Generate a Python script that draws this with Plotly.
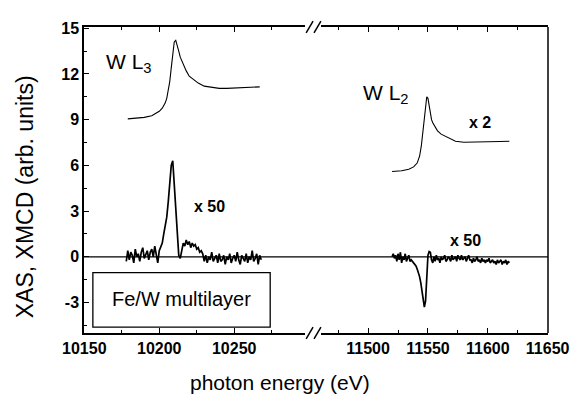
import plotly.graph_objects as go

# ---------------- data ----------------
# W L3 edge XAS (left segment)
xas_l3_x = [10179, 10185, 10190, 10195, 10198, 10200, 10202, 10204, 10205, 10206, 10207,
            10208, 10209, 10210, 10211, 10212, 10213, 10214, 10216, 10218, 10220, 10223,
            10226, 10230, 10235, 10240, 10245, 10250, 10255, 10260, 10267]
xas_l3_y = [9.05, 9.1, 9.15, 9.25, 9.4, 9.55, 9.75, 10.1, 10.4, 10.9, 11.5,
            12.4, 13.4, 14.1, 14.2, 13.9, 13.5, 13.1, 12.6, 12.2, 11.85, 11.6,
            11.4, 11.2, 11.1, 11.05, 11.05, 11.07, 11.1, 11.12, 11.15]

# W L3 edge XMCD x50 (left segment), 1 eV steps from 10178
xmcd_l3_start = 10178
xmcd_l3_y = [-0.3, 0.4, -0.2, 0.3, 0.1, -0.4, 0.5, 0.0, 0.2, -0.3, 0.3, 0.6, -0.1, 0.2, 0.4,
             -0.2, 0.3, 0.5, 0.0, 0.7, 0.2, -0.4, 0.4,
             0.6, 0.9, 1.5, 2.1, 2.6, 3.6, 4.7, 6.0, 6.3, 4.8, 3.6, 1.6, 0.1, -0.1,
             0.4, 0.9, 0.7, 1.1, 0.8, 1.0, 0.6, 0.9, 0.7, 0.8, 0.5, 0.6, 0.3, 0.4,
             0.2, -0.3, 0.1, -0.4, 0.0, -0.2, 0.3, -0.3, -0.1, 0.1, -0.4, 0.2, -0.3, -0.2,
             0.1, -0.5, 0.0, -0.2, 0.2, -0.4, -0.1, 0.1, -0.3, 0.3, -0.2, -0.5, 0.1, -0.1,
             -0.3, 0.2, -0.4, 0.0, -0.2, 0.4, -0.3, -0.1, 0.2, -0.5, 0.1, -0.2]

# W L2 edge XAS x2 (right segment)
xas_l2_x = [11520, 11528, 11534, 11538, 11541, 11543, 11544.5, 11546, 11547, 11548, 11549,
            11550, 11551, 11552, 11553, 11554, 11556, 11558, 11561, 11565, 11569, 11573,
            11580, 11590, 11600, 11610, 11618]
xas_l2_y = [5.6, 5.65, 5.75, 5.9, 6.15, 6.6, 7.3, 8.5, 9.4, 10.1, 10.5,
            10.4, 9.9, 9.4, 9.0, 8.8, 8.5, 8.27, 8.05, 7.88, 7.7, 7.58,
            7.52, 7.52, 7.55, 7.57, 7.58]

# W L2 edge XMCD x50 (right segment), 1 eV steps from 11520
xmcd_l2_start = 11520
xmcd_l2_y = [0.0, 0.2, -0.1, 0.1, -0.3, 0.2, -0.2, 0.3, -0.4, 0.0, -0.2, 0.2, -0.3, -0.1,
             0.1, -0.3, -0.2, -0.3,
             -0.4, -0.5, -0.6, -0.8, -1.0, -1.3, -1.7, -2.3, -3.0, -3.3, -2.9, -1.6, 0.1,
             0.35, 0.3, -0.2, -0.4, 0.0,
             -0.3, 0.1, -0.2, -0.1, -0.4, 0.0, -0.2, -0.1, 0.1, -0.3, -0.2, 0.0, -0.1, -0.3,
             0.1, -0.2, -0.1, 0.0, -0.3, 0.1, -0.1, -0.2, 0.1, -0.2, -0.1, 0.0, -0.3, -0.1,
             0.1, -0.2, -0.2, -0.4, -0.1, -0.3, -0.2, 0.0, -0.3, -0.2, -0.4, -0.1, -0.3,
             -0.2, -0.4, -0.2, -0.3, -0.1, -0.4, -0.3, -0.2, -0.4, -0.3, -0.5, -0.2, -0.4,
             -0.3, -0.2, -0.5, -0.3, -0.4, -0.2, -0.5, -0.3, -0.4]

xmcd_l3_x = [xmcd_l3_start + i for i in range(len(xmcd_l3_y))]
xmcd_l2_x = [xmcd_l2_start + i for i in range(len(xmcd_l2_y))]

left_ticks = [10150, 10200, 10250]
right_ticks = [11500, 11550, 11600, 11650]
y_ticks = [-3, 0, 3, 6, 9, 12, 15]

# ---------------- figure ----------------
FONT = "Arial, Liberation Sans, sans-serif"
OFF = 8  # page body margin offset
fig = go.Figure()

thin = dict(color="black", width=1.1)
thick = dict(color="black", width=1.7)

fig.add_trace(go.Scatter(x=xas_l3_x, y=xas_l3_y, mode="lines", line=thin, xaxis="x", yaxis="y"))
fig.add_trace(go.Scatter(x=xmcd_l3_x, y=xmcd_l3_y, mode="lines", line=thick, xaxis="x", yaxis="y"))
fig.add_trace(go.Scatter(x=xas_l2_x, y=xas_l2_y, mode="lines", line=thin, xaxis="x2", yaxis="y"))
fig.add_trace(go.Scatter(x=xmcd_l2_x, y=xmcd_l2_y, mode="lines", line=thick, xaxis="x2", yaxis="y"))

tickfont = dict(family=FONT, size=16, color="black")

def bold(vals):
    return ["<b>%d</b>" % v for v in vals]

common_x = dict(ticks="inside", ticklen=5, tickwidth=1.2, tickcolor="black",
                showline=True, linecolor="black", linewidth=1.5, mirror="ticks",
                showgrid=False, zeroline=False, tickfont=tickfont, anchor="y",
                tickmode="array")

minor_x = dict(tickmode="linear", dtick=25, ticks="inside", ticklen=3, tickcolor="black",
               showgrid=False)

fig.update_layout(
    width=582 - OFF, height=397 - OFF,
    margin=dict(l=84 - OFF, r=27, t=24 - OFF, b=64),
    paper_bgcolor="white", plot_bgcolor="white",
    showlegend=False,
    xaxis=dict(domain=[0, 0.4756], range=[10149.8, 10297],
               tickvals=left_ticks, ticktext=bold(left_ticks),
               minor=dict(tick0=left_ticks[0], **minor_x), **common_x),
    xaxis2=dict(domain=[0.5117, 1], range=[11461, 11650.3],
                tickvals=right_ticks, ticktext=bold(right_ticks),
                minor=dict(tick0=right_ticks[0], **minor_x), **common_x),
    yaxis=dict(range=[-5, 15.08], tickmode="array", tickvals=y_ticks, ticktext=bold(y_ticks),
               ticks="inside", ticklen=5, tickwidth=1.2, tickcolor="black",
               minor=dict(tickmode="linear", tick0=0, dtick=1.5, ticks="inside", ticklen=3,
                          tickcolor="black", showgrid=False),
               showline=True, linecolor="black", linewidth=1.5,
               showgrid=False, zeroline=False, tickfont=tickfont, anchor="x"),
)

# zero line across the whole plot
fig.add_shape(type="line", xref="paper", yref="y", x0=0, x1=1, y0=0, y1=0,
              line=dict(color="black", width=1.3), layer="below")
# right border
fig.add_shape(type="line", xref="paper", yref="paper", x0=1, x1=1, y0=0, y1=1,
              line=dict(color="black", width=1.5))

# axis break marks //
pw, ph = 471.0, 309.0
for yc in (0.0, 1.0):
    for xc in (313.0, 321.0):
        cx = (xc - 84) / pw
        fig.add_shape(type="line", xref="paper", yref="paper",
                      x0=cx - 3.5 / pw, x1=cx + 3.5 / pw, y0=yc - 6 / ph, y1=yc + 6 / ph,
                      line=dict(color="black", width=1.5))

# box with sample name
fig.add_shape(type="rect", xref="paper", yref="paper",
              x0=(93 - 84) / pw, x1=(273 - 84) / pw, y0=(333 - 327) / ph, y1=(333 - 272) / ph,
              line=dict(color="black", width=1.3), fillcolor="white", layer="above")

def ann(text, px, py, size, bold=False, angle=0):
    fig.add_annotation(text=text, xref="paper", yref="paper",
                       x=(px - 84) / pw, y=(333 - py) / ph, showarrow=False,
                       xanchor="center", yanchor="middle", textangle=angle,
                       font=dict(family=FONT, size=size, color="black",
                                 weight="bold" if bold else "normal"))

ann("Fe/W multilayer", 183, 299, 20)
ann("W L<sub>3</sub>", 130, 60, 21)
ann("W L<sub>2</sub>", 391, 92, 21)
ann("x 2", 486, 120, 16, bold=True)
ann("x 50", 211, 205, 16, bold=True)
ann("x 50", 471, 240, 16, bold=True)

# axis titles
ann("photon energy (eV)", 283, 383, 21)
ann("XAS, XMCD (arb. units)", 24, 195, 23, angle=-90)

fig.write_html("out.html")
